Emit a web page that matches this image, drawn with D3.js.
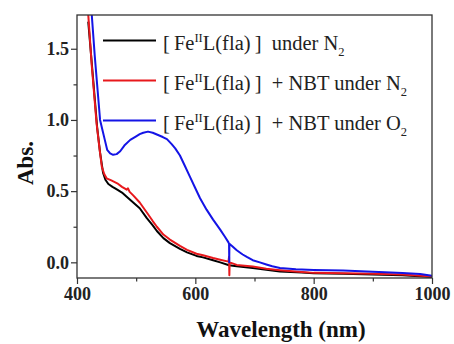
<!DOCTYPE html>
<html>
<head>
<meta charset="utf-8">
<script src="https://cdn.jsdelivr.net/npm/d3@7"></script>
<style>
  body { margin: 0; background: #fff; }
  svg { display: block; }
  text { font-family: "Liberation Serif", "Times New Roman", serif; }
  .tick text { font-weight: bold; font-size: 18px; fill: #222; }
  .axis-label { font-weight: bold; font-size: 23px; fill: #111; }
  .legend text { font-size: 20.5px; fill: #222; }
</style>
</head>
<body>
<svg id="chart" width="454" height="344"></svg>
<script>
// DATA: wavelength (nm) and absorbance
const wlBlack = [419, 427, 434, 439, 444, 448, 453, 460, 468, 476, 484, 495, 506, 518, 528, 535, 546, 557, 574, 586, 602, 613, 630, 642, 657, 670, 697, 720, 743, 780, 800, 850, 900, 950, 1000];
const absBlack = [1.69, 1.30, 0.95, 0.77, 0.63, 0.58, 0.55, 0.53, 0.51, 0.49, 0.46, 0.42, 0.38, 0.31, 0.26, 0.22, 0.17, 0.135, 0.095, 0.07, 0.045, 0.035, 0.015, 0.0, -0.02, -0.028, -0.04, -0.052, -0.065, -0.072, -0.076, -0.08, -0.085, -0.09, -0.103];

const wlRed = [418, 425, 433, 438, 442, 446, 450, 458, 468, 476, 484, 486, 489, 495, 506, 518, 528, 535, 546, 557, 574, 586, 602, 613, 630, 642, 656, 657, 657.5, 658, 670, 697, 720, 743, 780, 800, 850, 900, 950, 1000];
const absRed = [1.80, 1.38, 0.98, 0.80, 0.67, 0.62, 0.59, 0.575, 0.555, 0.53, 0.51, 0.52, 0.495, 0.47, 0.42, 0.35, 0.29, 0.25, 0.195, 0.16, 0.115, 0.088, 0.06, 0.05, 0.03, 0.018, 0.005, 0.04, -0.09, 0.0, -0.018, -0.03, -0.045, -0.055, -0.068, -0.074, -0.076, -0.08, -0.085, -0.1];

const wlBlue = [423, 430, 435, 439, 443, 447, 451, 456, 461, 467, 473, 480, 490, 500, 506, 512, 520, 528, 535, 545, 552, 560, 566, 574, 582, 591, 600, 608, 619, 630, 642, 650, 656, 657, 657.3, 657.6, 662, 670, 680, 687, 697, 709, 720, 730, 743, 770, 800, 850, 900, 950, 980, 1000];
const absBlue = [1.85, 1.45, 1.2, 1.0, 0.93, 0.86, 0.79, 0.765, 0.755, 0.76, 0.78, 0.82, 0.86, 0.885, 0.9, 0.91, 0.918, 0.91, 0.898, 0.88, 0.865, 0.83, 0.80, 0.75, 0.68, 0.60, 0.52, 0.45, 0.37, 0.30, 0.23, 0.18, 0.14, 0.13, 0.0, 0.13, 0.115, 0.085, 0.055, 0.038, 0.015, 0.0, -0.015, -0.028, -0.04, -0.048, -0.053, -0.058, -0.066, -0.075, -0.082, -0.095];

const xMajor = [400, 600, 800, 1000];
const xMinor = [500, 700, 900];
const yMajor = [0.0, 0.5, 1.0, 1.5];
const yMinor = [0.25, 0.75, 1.25];

const seriesNames = ["under N", "+ NBT under N", "+ NBT under O"];
const seriesColors = ["#000000", "#e8181c", "#1414e6"];

// SETUP
const margin = { top: 15, right: 22, bottom: 66, left: 77 },
      width = 454 - margin.left - margin.right,
      height = 344 - margin.top - margin.bottom;

const svg = d3.select("#chart");
const g = svg.append("g").attr("transform", `translate(${margin.left},${margin.top})`);

// SCALES
const x = d3.scaleLinear().domain([400, 1000]).range([0, width]);
const y = d3.scaleLinear().domain([-0.11, 1.737]).range([height, 0]);

// CURVES
g.append("clipPath").attr("id", "clip")
  .append("rect").attr("width", width).attr("height", height);

const line = d3.line().x(d => x(d[0])).y(d => y(d[1]));
const series = [
  d3.zip(wlBlack, absBlack),
  d3.zip(wlRed, absRed),
  d3.zip(wlBlue, absBlue)
];
g.append("g").attr("clip-path", "url(#clip)")
  .selectAll("path").data(series).join("path")
    .attr("fill", "none")
    .attr("stroke", (d, i) => seriesColors[i])
    .attr("stroke-width", 2)
    .attr("stroke-linejoin", "round")
    .attr("d", line);

// AXES
const styleAxis = sel => {
  sel.attr("font-family", null).attr("font-size", null);
  sel.select(".domain").remove();
  sel.selectAll(".tick line").attr("stroke", "#333").attr("stroke-width", 1.2);
};
g.append("g").attr("transform", `translate(0,${height})`)
  .call(d3.axisBottom(x).tickValues(xMajor).tickSize(6).tickPadding(3).tickFormat(d3.format("d")))
  .call(styleAxis);
g.append("g").attr("transform", `translate(0,${height})`)
  .call(d3.axisBottom(x).tickValues(xMinor).tickSize(3.5).tickFormat(""))
  .call(styleAxis);
g.append("g")
  .call(d3.axisLeft(y).tickValues(yMajor).tickSize(6).tickPadding(2).tickFormat(d3.format(".1f")))
  .call(styleAxis);
g.append("g")
  .call(d3.axisLeft(y).tickValues(yMinor).tickSize(3.5).tickFormat(""))
  .call(styleAxis);

// FRAME
g.append("rect")
  .attr("width", width).attr("height", height)
  .attr("fill", "none").attr("stroke", "#333").attr("stroke-width", 1.3);

// AXIS LABELS
svg.append("text").attr("class", "axis-label")
  .attr("x", 281).attr("y", 337).attr("text-anchor", "middle")
  .text("Wavelength (nm)");
svg.append("text").attr("class", "axis-label")
  .attr("transform", "translate(33,163) rotate(-90)")
  .attr("text-anchor", "middle")
  .text("Abs.");

// LEGEND
const legend = g.append("g").attr("class", "legend");
seriesNames.forEach((name, i) => {
  const ly = 25.5 + i * 40;
  legend.append("line")
    .attr("x1", 26).attr("x2", 79).attr("y1", ly).attr("y2", ly)
    .attr("stroke", seriesColors[i]).attr("stroke-width", 2);
  const t = legend.append("text").attr("x", 86).attr("y", ly + 9);
  t.append("tspan").text("[\u2009Fe");
  t.append("tspan").attr("font-size", "12.5px").attr("dy", -8).text("II");
  t.append("tspan").attr("dy", 8).text("L(fla)\u2009]\u2002" + name);
  t.append("tspan").attr("font-size", "12.5px").attr("dy", 6).text("2");
});
</script>
</body>
</html>
